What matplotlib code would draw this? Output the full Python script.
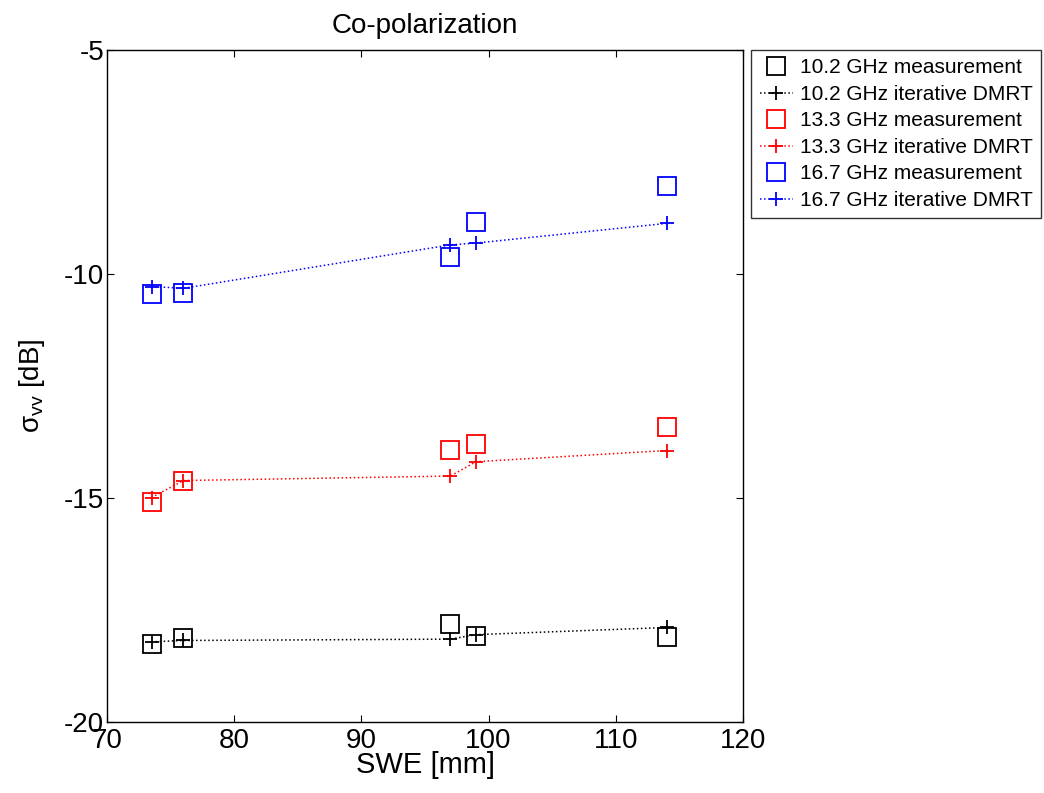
import numpy as np
import matplotlib
matplotlib.use("Agg")
import matplotlib.pyplot as plt

plt.rcParams['font.family'] = ['Liberation Sans', 'DejaVu Sans']
plt.rcParams['axes.unicode_minus'] = False

# SWE values [mm]
swe = [73.5, 76, 97, 99, 114]

# measurements and iterative DMRT, sigma_vv [dB]
meas_102 = [-18.26, -18.12, -17.81, -18.08, -18.11]
dmrt_102 = [-18.21, -18.18, -18.15, -18.05, -17.89]
meas_133 = [-15.09, -14.61, -13.93, -13.79, -13.42]
dmrt_133 = [-14.99, -14.61, -14.51, -14.19, -13.94]
meas_167 = [-10.45, -10.42, -9.63, -8.85, -8.04]
dmrt_167 = [-10.28, -10.32, -9.35, -9.31, -8.87]

freqs = ['10.2', '13.3', '16.7']
colors = ['black', 'red', 'blue']
meas = [meas_102, meas_133, meas_167]
dmrt = [dmrt_102, dmrt_133, dmrt_167]

fig = plt.figure(figsize=(10.44, 7.93), dpi=100)
ax = fig.add_axes([0.1025, 0.0895, 0.6092, 0.8475])

for f, c, m, d in zip(freqs, colors, meas, dmrt):
    ax.plot(swe, m, linestyle='none', marker='s', markersize=12.5,
            markerfacecolor='none', markeredgecolor=c, markeredgewidth=1.3,
            label=f'{f} GHz measurement')
    ax.plot(swe, d, linestyle=':', color=c, linewidth=1.1, marker='+',
            markersize=10, markeredgewidth=1.3,
            label=f'{f} GHz iterative DMRT')

ax.set_xlim(70, 120)
ax.set_ylim(-20, -5)
ax.set_xticks([70, 80, 90, 100, 110, 120])
ax.set_yticks([-20, -15, -10, -5])
ax.tick_params(direction='in', top=True, right=True, labelsize=20, length=5)
ax.tick_params(axis='x', pad=4)
ax.tick_params(axis='y', pad=2)
for s in ax.spines.values():
    s.set_linewidth(1.0)

ax.set_xlabel('SWE [mm]', fontsize=21, labelpad=-2)
ax.set_ylabel(r'$\mathregular{\sigma_{vv}}$ [dB]', fontsize=20, labelpad=12)
ax.set_title('Co-polarization', fontsize=20, pad=12)

leg = ax.legend(loc='upper left', bbox_to_anchor=(1.013, 1.0), fontsize=15,
                frameon=True, fancybox=False, edgecolor='black',
                borderaxespad=0, handlelength=1.6, handletextpad=0.35,
                labelspacing=0.36, borderpad=0.4)
leg.get_frame().set_linewidth(1.0)

fig.savefig('out.png', dpi=100)
